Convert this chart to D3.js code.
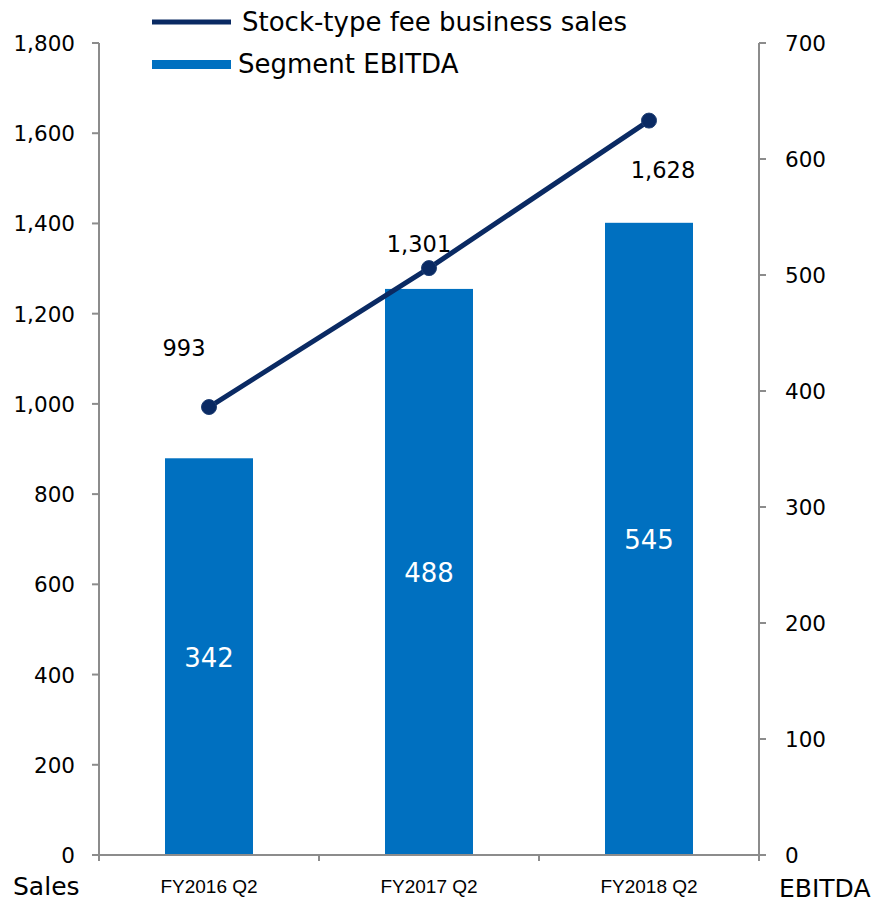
<!DOCTYPE html>
<html><head><meta charset="utf-8">
<script src="https://cdn.jsdelivr.net/npm/d3@7"></script>
<style>body{margin:0;background:#fff}svg{display:block}</style>
</head><body>
<svg id="c" width="880" height="903"></svg>
<script>
const categories = ["FY2016 Q2", "FY2017 Q2", "FY2018 Q2"];
const ebitda = [342, 488, 545];
const stockSales = [993, 1301, 1628];
const leftTicks = [0, 200, 400, 600, 800, 1000, 1200, 1400, 1600, 1800];
const rightTicks = [0, 100, 200, 300, 400, 500, 600, 700];
const seriesNames = ["Stock-type fee business sales", "Segment EBITDA"];
// label offsets (manual placement as in original)
const lineLabelOffsets = [[-25, -51], [-10, -16], [14, 57]];

const svg = d3.select("#c");
const font = "DejaVu Sans, Verdana, sans-serif";
const axisColor = "#8c8c8c";
const x0 = 99, x1 = 759, yTop = 43, yBot = 855;

const x = d3.scaleBand().domain(categories).range([x0, x1]).paddingInner(0).paddingOuter(0);
const yL = d3.scaleLinear().domain([0, 1800]).range([yBot, yTop]);
const yR = d3.scaleLinear().domain([0, 700]).range([yBot, yTop]);
const barW = x.bandwidth() * 0.4;

// bars
svg.selectAll("rect.bar").data(ebitda).join("rect")
  .attr("x", (d, i) => x(categories[i]) + x.bandwidth() / 2 - barW / 2)
  .attr("y", d => yR(d)).attr("width", barW).attr("height", d => yBot - yR(d))
  .attr("fill", "#0070c0");
svg.selectAll("text.bl").data(ebitda).join("text")
  .attr("x", (d, i) => x(categories[i]) + x.bandwidth() / 2)
  .attr("y", d => (yR(d) + yBot) / 2 + 10)
  .attr("text-anchor", "middle").attr("fill", "#fff")
  .style("font", "26px " + font).text(d => d);

// axes
const gA = svg.append("g").attr("stroke", axisColor).attr("stroke-width", 2).attr("fill", "none");
gA.append("line").attr("x1", x0).attr("x2", x0).attr("y1", yTop).attr("y2", yBot);
gA.append("line").attr("x1", x1).attr("x2", x1).attr("y1", yTop).attr("y2", yBot);
gA.append("line").attr("x1", x0 - 7).attr("x2", x1 + 7).attr("y1", yBot).attr("y2", yBot);
leftTicks.forEach(t => gA.append("line").attr("x1", x0 - 7).attr("x2", x0).attr("y1", yL(t)).attr("y2", yL(t)));
rightTicks.forEach(t => gA.append("line").attr("x1", x1).attr("x2", x1 + 7).attr("y1", yR(t)).attr("y2", yR(t)));
[x0, ...categories.map(c => x(c) + x.bandwidth())].forEach(v =>
  gA.append("line").attr("x1", v).attr("x2", v).attr("y1", yBot).attr("y2", yBot + 6));

svg.selectAll("text.lt").data(leftTicks).join("text")
  .attr("x", 75).attr("y", d => yL(d) + 8).attr("text-anchor", "end")
  .attr("fill", "#000").style("font", "21.5px " + font).text(d => d3.format(",")(d));
svg.selectAll("text.rt").data(rightTicks).join("text")
  .attr("x", 785).attr("y", d => yR(d) + 8).attr("text-anchor", "start")
  .attr("fill", "#000").style("font", "21.5px " + font).text(d => d);
svg.selectAll("text.cat").data(categories).join("text")
  .attr("x", d => x(d) + x.bandwidth() / 2).attr("y", 893).attr("text-anchor", "middle")
  .attr("fill", "#000").style("font", "19px Liberation Sans, Arial, sans-serif").text(d => d);
svg.append("text").attr("x", 13).attr("y", 895).style("font", "25px " + font).text("Sales");
svg.append("text").attr("x", 779).attr("y", 897).style("font", "25px " + font).text("EBITDA");

// line
const pts = stockSales.map((v, i) => [x(categories[i]) + x.bandwidth() / 2, yL(v)]);
svg.append("path").attr("d", d3.line()(pts)).attr("fill", "none")
  .attr("stroke", "#0a2a63").attr("stroke-width", 5);
svg.selectAll("circle.pt").data(pts).join("circle")
  .attr("cx", d => d[0]).attr("cy", d => d[1]).attr("r", 7.5)
  .attr("fill", "#0a2a63").attr("stroke", "#1f3f74").attr("stroke-width", 1);
svg.selectAll("text.ll").data(stockSales).join("text")
  .attr("x", (d, i) => pts[i][0] + lineLabelOffsets[i][0])
  .attr("y", (d, i) => pts[i][1] + lineLabelOffsets[i][1])
  .attr("text-anchor", "middle").style("font", "22.5px " + font).attr("fill", "#000")
  .text(d => d3.format(",")(d));

// legend
svg.append("line").attr("x1", 152).attr("x2", 231).attr("y1", 22).attr("y2", 22)
  .attr("stroke", "#0a2a63").attr("stroke-width", 5);
svg.append("text").attr("x", 242).attr("y", 31).style("font", "26px " + font).text(seriesNames[0]);
svg.append("rect").attr("x", 152).attr("y", 60).attr("width", 79).attr("height", 9).attr("fill", "#0070c0");
svg.append("text").attr("x", 238).attr("y", 73).style("font", "26px " + font).text(seriesNames[1]);
</script>
</body></html>
